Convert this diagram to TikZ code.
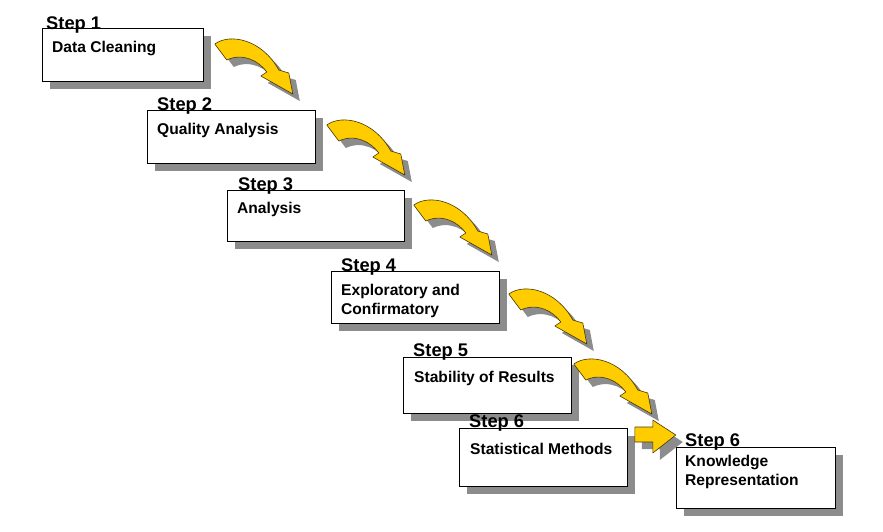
\documentclass[tikz,border=0pt]{standalone}
\usepackage{fontspec}
\setmainfont{Liberation Sans}
\usetikzlibrary{shadows}

\definecolor{arrowgold}{RGB}{255,204,0}
\definecolor{arrowedge}{RGB}{70,55,0}
\definecolor{shadegray}{RGB}{140,140,140}

\tikzset{
  stepbox/.style={draw,fill=white,line width=.8pt,anchor=north west,inner sep=0pt,
    drop shadow={shadow xshift=8pt,shadow yshift=-8pt,fill=shadegray,opacity=1}},
  steplbl/.style={anchor=base west,inner sep=0pt,font=\fontsize{18.3}{20}\selectfont\bfseries},
  boxtxt/.style={anchor=base west,inner sep=0pt,align=left,font=\fontsize{15.6}{19}\selectfont\bfseries},
  arrowbody/.style={fill=arrowgold,draw=arrowedge,line width=.6pt,line join=round,
    drop shadow={shadow xshift=7pt,shadow yshift=-7pt,fill=shadegray,opacity=1}},
  bendarrow/.pic={
    \filldraw[arrowbody] (0,7) .. controls (15,-4) and (47,2) .. (64,33) -- (74,36) -- (78,57)
      -- (46,39) -- (52,35) .. controls (45,25) and (29,15) .. (12,23) -- cycle;
  },
  flatarrow/.pic={
    \filldraw[arrowbody] (7,-1) -- (25,-1) -- (25,-8) -- (48,7) -- (25,25) -- (25,14) -- (7,14) -- cycle;
  }
}

\begin{document}
\begin{tikzpicture}[x=1pt,y=-1pt]
\useasboundingbox (0,0) rectangle (883,531);

% boxes
\node[stepbox,minimum width=161pt,minimum height=53pt] (b1) at (42,28) {};
\node[stepbox,minimum width=168pt,minimum height=53pt] (b2) at (147,110) {};
\node[stepbox,minimum width=177pt,minimum height=51pt] (b3) at (227,190) {};
\node[stepbox,minimum width=168pt,minimum height=52pt] (b4) at (331,271) {};
\node[stepbox,minimum width=168pt,minimum height=56pt] (b5) at (403,357) {};
\node[stepbox,minimum width=168pt,minimum height=58pt] (b6) at (459,428) {};
\node[stepbox,minimum width=159pt,minimum height=61pt] (b7) at (676,447) {};

% step labels
\node[steplbl] (l1) at (46,29) {Step 1};
\node[steplbl] (l2) at (157,110) {Step 2};
\node[steplbl] (l3) at (238,190) {Step 3};
\node[steplbl] (l4) at (341,271) {Step 4};
\node[steplbl] (l5) at (413,356) {Step 5};
\node[steplbl] (l6) at (469,427) {Step 6};
\node[steplbl] (l7) at (685,446) {Step 6};

% box texts (two-line nodes sit on their last baseline)
\node[boxtxt] (t1) at (52,52) {Data Cleaning};
\node[boxtxt] (t2) at (157,134) {Quality Analysis};
\node[boxtxt] (t3) at (237,213) {Analysis};
\node[boxtxt] (t4) at (341,314) {Exploratory and\\Confirmatory};
\node[boxtxt] (t5) at (414,382) {Stability of Results};
\node[boxtxt] (t6) at (470,454) {Statistical Methods};
\node[boxtxt] (t7) at (685,485) {Knowledge\\Representation};

% arrows
\pic at ([shift={(11,9)}]b1.north east) {bendarrow};
\pic at ([shift={(11,8)}]b2.north east) {bendarrow};
\pic at ([shift={(9,8)}]b3.north east) {bendarrow};
\pic at ([shift={(9,16)}]b4.north east) {bendarrow};
\pic at (b6.north east) {flatarrow};
\pic at ([shift={(2,0)}]b5.north east) {bendarrow};
\end{tikzpicture}
\end{document}
